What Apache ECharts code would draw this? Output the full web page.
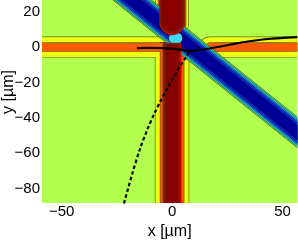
<!DOCTYPE html>
<html><head><meta charset="utf-8">
<script src="https://cdn.jsdelivr.net/npm/echarts@6/dist/echarts.min.js"></script>
<style>html,body{margin:0;padding:0;background:#fff}#c{width:298px;height:245px}</style>
</head><body><div id="c"></div>
<script>
// ---- axis ranges and ticks (µm)
const xRange = [-58.9, 56.7];
const yRange = [-88.2, 26.6];
const xTicks = [-50, 0, 50];
const yTicks = [-80, -60, -40, -20, 0, 20];

// ---- horizontal waveguide (centred on y = 0): contour half-widths
const hHalf = [5.6, 2.3];            // yellow level, orange level
const hLeftEnd = [0, 0];             // left arm ends (merges with vertical)
const hRightStart = [12.5, 15.5];    // right arm starts

// ---- vertical waveguide (centred on x = 0): contour half-widths
const vLowerHalf = [7.5, 5.3, 4.0, 3.3, 2.6];
const vUpperHalf = [7.3, 6.2, 5.6, 5.1, 4.5];
const vUpperBottom = [4.0, 5.5, 7.0, 8.0, 9.0];   // lower end of upper arm
const vLowerTop = [4.0, 2.5, 2.0, 1.5, 1.0];      // upper end of lower arm

// ---- diagonal (negative) band: centre line y = -x + dIntercept
const dIntercept = 8.5;
const dHalf = [8.5, 7.8, 6.8, 5.8, 4.2];

// ---- crossing region (lighter)
const blobCenter = [1.6, 5.0];
const blobRadius = [3.0, 3.2];

// ---- black trajectories
const solidX = [-15.9, -10.0, -4.0, 1.0, 4.5, 7.0, 10.0, 13.0, 17.0, 22.0, 28.0, 35.0, 42.0, 49.0, 56.7];
const solidY = [-0.6, -0.5, -0.6, -1.0, -1.6, -2.1, -2.1, -1.6, -0.8, 0.3, 1.8, 3.3, 4.4, 5.1, 5.6];
const dashX = [-21.8, -18.0, -14.5, -11.0, -8.0, -5.0, -2.0, 1.0, 3.5, 6.0, 8.0];
const dashY = [-88.4, -71.5, -57.5, -46.0, -37.5, -30.0, -23.0, -16.5, -11.0, -6.3, -2.3];

// ---- colours
const bgColor = '#B3FF4D';
const hColors = ['#EEFF12', '#FF5A00'];
const vColors = ['#EEFF12', '#FF5A00', '#E00000', '#B00000', '#880000'];
const dColors = ['#74FFA0', '#18E0FF', '#0090FF', '#0020FF', '#000098'];
const blobColor = '#40D8FF';
const contourStroke = 'rgba(50,50,0,0.75)';

const BIG = 500;
const shapes = [];
function addLevel(list) {
  list.forEach(s => shapes.push(Object.assign({}, s, {stroke: true})));
  list.forEach(s => shapes.push(Object.assign({}, s, {stroke: false})));
}
function vBandPieces(i) {
  return [
    {kind: 'rect', x0: -vLowerHalf[i], x1: vLowerHalf[i], y0: -BIG, y1: vLowerTop[i], color: vColors[i]},
    {kind: 'rect', x0: -vUpperHalf[i], x1: vUpperHalf[i], y0: vUpperBottom[i], y1: BIG, color: vColors[i], round: 'bottom'}
  ];
}
for (let i = 0; i < 2; i++) {
  addLevel([
    {kind: 'rect', x0: -BIG, x1: hLeftEnd[i], y0: -hHalf[i], y1: hHalf[i], color: hColors[i]},
    {kind: 'rect', x0: hRightStart[i], x1: BIG, y0: -hHalf[i], y1: hHalf[i], color: hColors[i], round: 'left'}
  ].concat(vBandPieces(i)));
}
for (let i = 0; i < dHalf.length; i++) {
  addLevel([{kind: 'diag', c: dIntercept, w: dHalf[i], color: dColors[i]}]);
}
addLevel([{kind: 'rect', x0: blobCenter[0] - blobRadius[0], x1: blobCenter[0] + blobRadius[0],
  y0: blobCenter[1] - blobRadius[1], y1: blobCenter[1] + blobRadius[1], color: blobColor, round: 'all'}]);
for (let i = 2; i < vColors.length; i++) addLevel(vBandPieces(i));

function renderItem(params, api) {
  const s = shapes[params.dataIndex];
  const cs = params.coordSys;
  const style = {fill: s.color, stroke: s.stroke ? contourStroke : null, lineWidth: s.stroke ? 1.3 : 0};
  let el;
  if (s.kind === 'rect') {
    const a = api.coord([s.x0, s.y1]);
    const b = api.coord([s.x1, s.y0]);
    const w = b[0] - a[0], h = b[1] - a[1];
    let r = 0;
    if (s.round === 'left') r = [h / 2, 0, 0, h / 2];
    else if (s.round === 'bottom') r = [0, 0, w / 2, w / 2];
    else if (s.round === 'all') r = Math.min(w, h) / 2;
    el = {type: 'rect', shape: {x: a[0], y: a[1], width: w, height: h, r: r}, style: style};
  } else {
    const pts = [[-BIG, BIG + s.c + s.w], [BIG, -BIG + s.c + s.w], [BIG, -BIG + s.c - s.w], [-BIG, BIG + s.c - s.w]]
      .map(p => api.coord(p));
    el = {type: 'polygon', shape: {points: pts}, style: style};
  }
  return {type: 'group', clipPath: {type: 'rect', shape: {x: cs.x, y: cs.y, width: cs.width, height: cs.height}}, children: [el]};
}

const font = '"Liberation Sans", Arial, Helvetica, sans-serif';
const chart = echarts.init(document.getElementById('c'), null, {renderer: 'canvas'});
chart.setOption({
  animation: false,
  backgroundColor: '#fff',
  grid: {left: 42, right: 0.7, top: 0, bottom: 30.3, show: true, backgroundColor: bgColor, borderWidth: 0},
  xAxis: [
    {type: 'value', min: xRange[0], max: xRange[1], position: 'bottom',
     axisLine: {show: false},
     axisTick: {show: true, inside: true, length: 3, customValues: xTicks, lineStyle: {color: '#333'}},
     axisLabel: {customValues: xTicks, color: '#000', fontSize: 15, fontFamily: font, margin: 1,
       formatter: v => String(v).replace('-', '\u2212')},
     splitLine: {show: false},
     name: 'x [µm]', nameLocation: 'middle', nameGap: 13,
     nameTextStyle: {color: '#000', fontSize: 16, fontFamily: font}},
    {type: 'value', min: xRange[0], max: xRange[1], position: 'top',
     axisLine: {show: false}, axisLabel: {show: false}, splitLine: {show: false},
     axisTick: {show: true, inside: true, length: 3, customValues: xTicks, lineStyle: {color: '#333'}}}
  ],
  yAxis: [
    {type: 'value', min: yRange[0], max: yRange[1], position: 'left',
     axisLine: {show: true, lineStyle: {color: '#555', width: 1}},
     axisTick: {show: true, inside: true, length: 3, customValues: yTicks, lineStyle: {color: '#333'}},
     axisLabel: {customValues: yTicks, color: '#000', fontSize: 15, fontFamily: font, margin: 2,
       formatter: v => String(v).replace('-', '\u2212')},
     splitLine: {show: false}},
    {type: 'value', min: yRange[0], max: yRange[1], position: 'right',
     axisLine: {show: false}, axisLabel: {show: false}, splitLine: {show: false},
     axisTick: {show: true, inside: true, length: 3, customValues: yTicks, lineStyle: {color: '#333'}}}
  ],
  graphic: [{type: 'text', x: 9, y: 92, rotation: Math.PI / 2,
    style: {text: 'y [µm]', fill: '#000', font: '16px ' + font, textAlign: 'center', textVerticalAlign: 'middle'}}],
  series: [
    {type: 'custom', xAxisIndex: 0, yAxisIndex: 0, renderItem: renderItem, clip: true, silent: true,
     data: shapes.map((s, i) => [i])},
    {type: 'line', xAxisIndex: 0, yAxisIndex: 0, showSymbol: false, smooth: 0.3, clip: true,
     lineStyle: {color: '#000', width: 2.2}, data: solidX.map((x, i) => [x, solidY[i]])},
    {type: 'line', xAxisIndex: 0, yAxisIndex: 0, showSymbol: false, smooth: 0.3, clip: true,
     lineStyle: {color: '#000', width: 2.2, type: [3.5, 2.5]}, data: dashX.map((x, i) => [x, dashY[i]])}
  ]
});
</script></body></html>
